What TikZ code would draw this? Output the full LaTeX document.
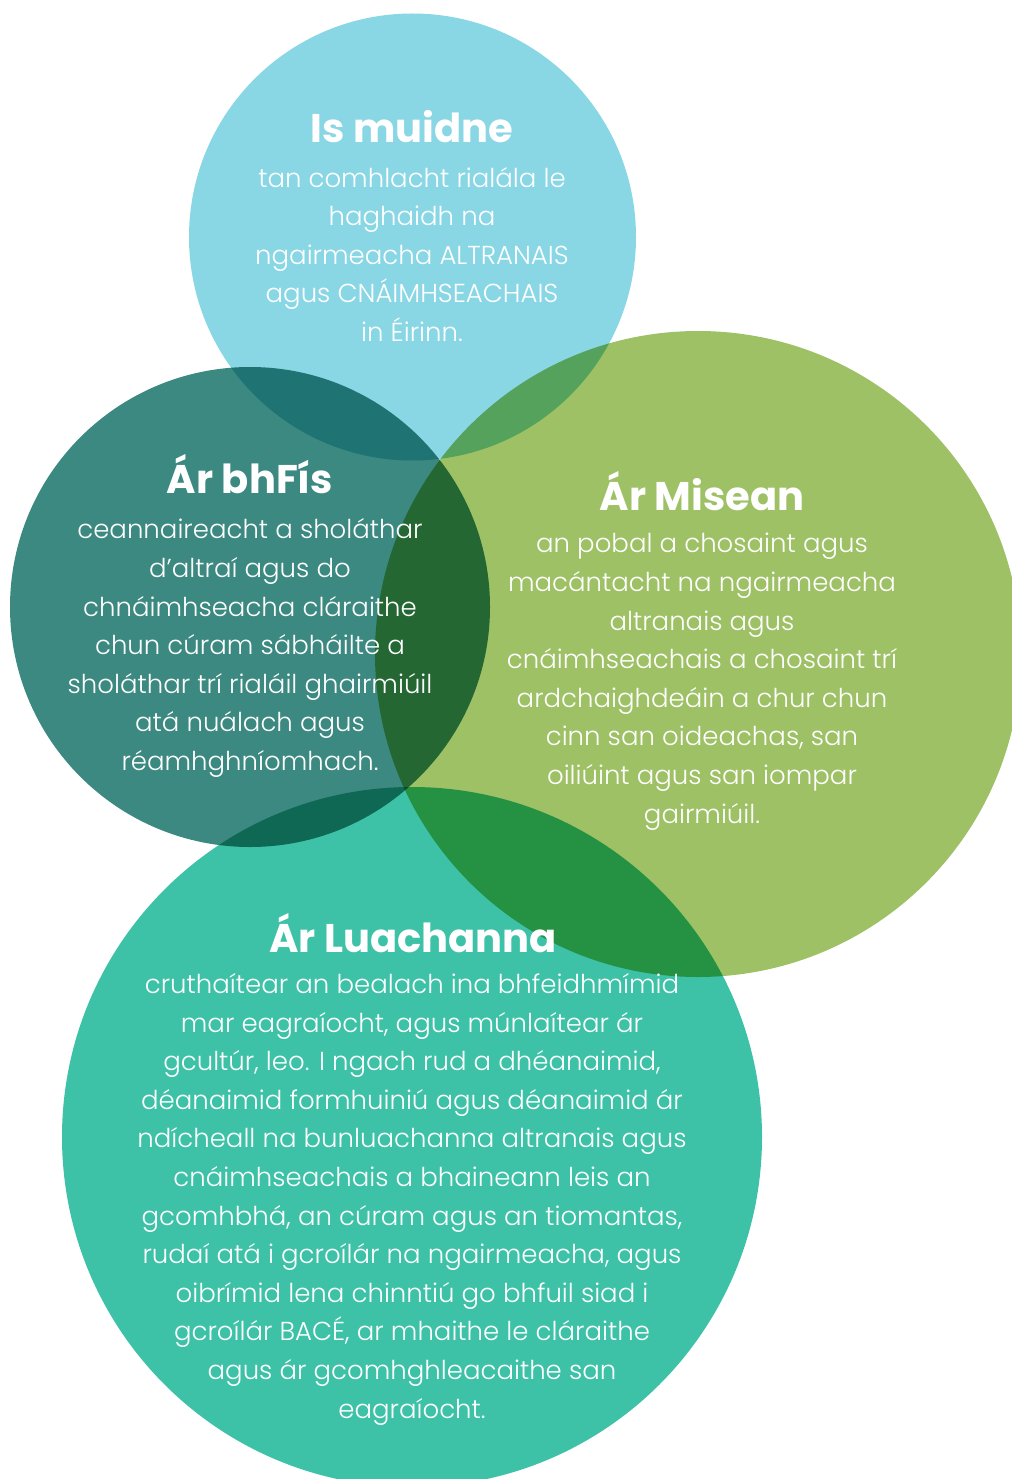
\documentclass[tikz,border=0pt]{standalone}
\usepackage{fontspec}
\IfFontExistsTF{Poppins Light}
  {\newfontfamily\blurbfont{Poppins Light}}
  {\newfontfamily\blurbfont{Poppins}}
\newfontfamily\headfont{Poppins}
\usetikzlibrary{shapes.geometric}
\definecolor{skyblue}{RGB}{137,215,228}
\definecolor{deepteal}{RGB}{59,137,128}
\definecolor{leafgreen}{RGB}{158,193,102}
\definecolor{seagreen}{RGB}{61,194,168}
\tikzstyle{disc} = [circle, inner sep=0pt, draw=none]
\tikzstyle{heading} = [anchor=base, inner sep=0pt, text=white, font=\headfont\bfseries\fontsize{40}{46}\selectfont]
\tikzstyle{blurb} = [anchor=base, inner sep=0pt, text=white, align=center, font=\blurbfont\fontsize{26}{38.6}\selectfont]

\begin{document}
\begin{tikzpicture}[x=1pt, y=-1pt]
            \clip (0,0) rectangle (1011,1479);
            \begin{scope}[blend group=multiply]
            \node [disc, fill=skyblue, minimum size=447] at (412.5,237) (usDisc) {};
            \node [disc, fill=deepteal, minimum size=480] at (250,607) (visionDisc) {};
            \node [disc, fill=leafgreen, minimum size=646] at (698,654) (missionDisc) {};
            \node [disc, fill=seagreen, minimum size=700] at (412,1137) (valuesDisc) {};
            \end{scope}
            % blurbs sit on the baseline of their last line
            \node [heading] at (412,143) (usHead) {Is muidne};
            \node [blurb] at (412,341.5) (usText) {tan comhlacht rialála le\\haghaidh na\\ngairmeacha ALTRANAIS\\agus CNÁIMHSEACHAIS\\in Éirinn.};
            \node [heading] at (250,493) (visionHead) {Ár bhFís};
            \node [blurb] at (250,770.5) (visionText) {ceannaireacht a sholáthar\\d’altraí agus do\\chnáimhseacha cláraithe\\chun cúram sábháilte a\\sholáthar trí rialáil ghairmiúil\\atá nuálach agus\\réamhghníomhach.};
            \node [heading] at (702,510) (missionHead) {Ár Misean};
            \node [blurb] at (702,823) (missionText) {an pobal a chosaint agus\\macántacht na ngairmeacha\\altranais agus\\cnáimhseachais a chosaint trí\\ardchaighdeáin a chur chun\\cinn san oideachas, san\\oiliúint agus san iompar\\gairmiúil.};
            \node [heading] at (413,952) (valuesHead) {Ár Luachanna};
            \node [blurb] at (412,1418) (valuesText) {cruthaítear an bealach ina bhfeidhmímid\\mar eagraíocht, agus múnlaítear ár\\gcultúr, leo. I ngach rud a dhéanaimid,\\déanaimid formhuiniú agus déanaimid ár\\ndícheall na bunluachanna altranais agus\\cnáimhseachais a bhaineann leis an\\gcomhbhá, an cúram agus an tiomantas,\\rudaí atá i gcroílár na ngairmeacha, agus\\oibrímid lena chinntiú go bhfuil siad i\\gcroílár BACÉ, ar mhaithe le cláraithe\\agus ár gcomhghleacaithe san\\eagraíocht.};
\end{tikzpicture}
\end{document}
